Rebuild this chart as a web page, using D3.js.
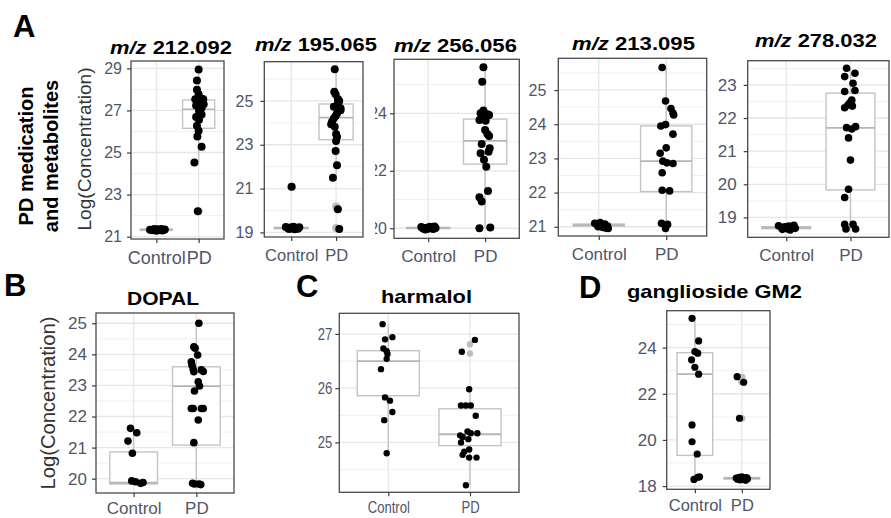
<!DOCTYPE html>
<html>
<head>
<meta charset="utf-8">
<script src="https://cdn.jsdelivr.net/npm/d3@7"></script>
<style>
  body { margin: 0; background: #fff; }
  svg { font-family: Arial, "Liberation Sans", sans-serif; }
</style>
</head>
<body>
<svg id="vis" width="891" height="518"></svg>
<script>
const groups = ["Control", "PD"];

// points are [value, jitter]; jitter in category units
// boxes are [lower whisker, q1, median, q3, upper whisker]

// m/z 212.092
const mz212Control = [[21.33,-0.15],[21.30,-0.1],[21.36,-0.05],[21.28,0],[21.35,0.03],[21.31,0.08],[21.37,0.12],[21.29,0.15],[21.34,0.2],[21.32,-0.02]];
const mz212PD = [[28.95,0],[28.42,-0.04],[27.98,-0.04],[27.77,0],[27.56,0.07],[27.53,-0.08],[27.53,0.11],[27.37,0.02],[27.24,-0.06],[27.29,0.12],[27.13,0.07],[26.97,0.01],[26.81,0.07],[26.69,-0.06],[26.56,0.01],[26.27,-0.04],[26.03,0],[25.76,-0.03],[25.27,0.07],[24.52,-0.1],[22.21,-0.02]];
const mz212Box = [[21.27,21.3,21.33,21.36,21.38],[24.52,26.15,27.05,27.5,28.95]];
const mz212Outliers = [["PD",22.21]];
const mz212Ticks = [21,23,25,27,29];

// m/z 195.065
const mz195Control = [[21.08,0.01],[19.25,-0.12],[19.2,-0.08],[19.15,-0.05],[19.22,-0.02],[19.18,0.02],[19.26,0.05],[19.14,0.08],[19.21,0.11],[19.17,0.15],[19.23,0.18]];
const mz195PD = [[26.44,-0.03],[25.42,-0.04],[25.31,-0.01],[25.09,0.04],[25.0,0.07],[24.88,0.04],[24.73,-0.05],[24.66,0.1],[24.58,0.1],[24.43,0.02],[24.31,-0.01],[24.2,-0.05],[24.05,-0.09],[23.94,-0.11],[23.82,-0.03],[23.49,0],[23.36,0.02],[23.17,0],[22.71,-0.01],[22.07,0.02],[21.49,-0.07],[20.06,0.04],[19.15,0.07]];
const mz195Box = [[19.14,19.17,19.2,19.23,19.26],[21.49,23.23,24.24,24.86,26.44]];
const mz195Outliers = [["Control",21.08],["PD",20.18],["PD",19.2]];
const mz195Ticks = [19,21,23,25];

// m/z 256.056
const mz256Control = [[20.04,-0.12],[19.99,-0.09],[19.96,-0.05],[20.02,-0.03],[19.98,0],[20.05,0.03],[20.0,0.06],[19.97,0.09],[20.06,0.11],[20.01,0.13]];
const mz256PD = [[25.6,-0.03],[25.1,-0.05],[24.1,-0.03],[24.0,-0.08],[23.97,0.04],[23.9,-0.02],[23.94,0.07],[23.83,-0.05],[23.74,0.01],[23.77,-0.1],[23.42,0],[23.28,0.04],[23.21,0.07],[22.93,-0.06],[22.78,0.08],[22.66,0.06],[22.61,-0.08],[22.38,-0.02],[22.14,0.02],[21.3,0.05],[21.08,-0.1],[20.93,-0.06],[20.0,-0.1],[20.03,0.09]];
const mz256Box = [[19.96,19.99,20.01,20.03,20.06],[20.0,22.23,23.04,23.8,25.6]];
const mz256Outliers = [];
const mz256Ticks = [20,22,24];

// m/z 213.095
const mz213Control = [[21.1,-0.06],[21.07,-0.03],[21.0,-0.01],[21.12,0.02],[21.04,0.04],[20.98,0.06],[21.08,0.09],[20.96,0.11],[21.02,0.13],[20.95,0.14]];
const mz213PD = [[25.66,-0.06],[24.68,-0.01],[24.46,0.07],[24.33,0.1],[24.27,0.11],[23.95,-0.08],[23.99,-0.01],[23.71,0.1],[23.31,0],[23.15,-0.09],[22.92,-0.05],[22.87,0.01],[22.85,0.1],[22.58,-0.06],[22.07,-0.06],[22.05,0.05],[21.1,-0.07],[21.07,0.02],[20.95,-0.01]];
const mz213Box = [[20.95,21.02,21.05,21.08,21.12],[20.95,22.03,22.92,23.95,25.66]];
const mz213Outliers = [];
const mz213Ticks = [21,22,23,24,25];

// m/z 278.032
const mz278Control = [[18.75,-0.12],[18.7,-0.08],[18.64,-0.06],[18.72,-0.02],[18.66,0.01],[18.74,0.04],[18.62,0.06],[18.69,0.09],[18.76,0.12],[18.67,0.14]];
const mz278PD = [[23.5,-0.06],[23.35,0.07],[23.25,-0.09],[23.05,0.04],[22.8,-0.09],[22.83,0.07],[22.54,0.02],[22.46,-0.01],[22.31,-0.09],[22.36,0.03],[22.39,-0.04],[21.71,-0.06],[21.74,0.08],[21.67,0.02],[21.4,-0.03],[20.73,0],[19.85,-0.03],[19.6,-0.09],[18.79,-0.09],[18.79,0.04],[18.65,-0.07],[18.65,0.08]];
const mz278Box = [[18.62,18.66,18.69,18.72,18.76],[18.65,19.83,21.7,22.75,23.5]];
const mz278Outliers = [];
const mz278Ticks = [19,20,21,22,23];

// DOPAL
const dopalControl = [[21.62,-0.05],[21.48,0.05],[21.21,-0.09],[20.82,-0.02],[19.93,-0.03],[19.9,0.03],[19.85,0.11],[19.88,0.15]];
const dopalPD = [[25.0,0.04],[24.24,-0.04],[24.2,-0.02],[23.98,0.02],[23.76,-0.08],[23.65,-0.07],[23.52,-0.05],[23.44,-0.04],[23.5,0.08],[23.45,0.11],[23.12,0.03],[22.98,0.05],[22.82,-0.03],[22.26,-0.08],[22.26,-0.05],[22.26,0.08],[22.26,0.11],[21.89,0.03],[21.16,-0.04],[19.85,-0.06],[19.83,-0.03],[19.83,0.04],[19.81,0.07]];
const dopalBox = [[19.81,19.83,19.87,20.86,21.62],[19.81,21.08,22.98,23.6,25.0]];
const dopalOutliers = [];
const dopalTicks = [20,21,22,23,24,25];

// harmalol
const harmalolControl = [[27.18,-0.07],[26.9,-0.04],[26.94,0.05],[26.73,-0.06],[26.68,-0.02],[26.63,-0.01],[26.54,-0.02],[26.35,-0.09],[25.83,-0.04],[25.77,0.02],[25.56,0.05],[25.41,-0.05],[24.8,-0.02]];
const harmalolPD = [[26.89,0.06],[26.67,-0.1],[25.98,-0.01],[25.68,-0.11],[25.68,-0.05],[25.68,0.01],[25.49,0.07],[25.2,-0.03],[25.17,0.01],[25.13,-0.12],[25.17,0.09],[25.1,-0.09],[25.06,-0.02],[25.0,-0.11],[24.87,-0.01],[24.83,-0.07],[24.77,-0.09],[24.72,-0.01],[24.72,0.08],[24.21,-0.05]];
const harmalolBox = [[24.8,25.86,26.5,26.69,27.18],[24.21,24.94,25.15,25.62,25.98]];
const harmalolOutliers = [["PD",26.81],["PD",26.64]];
const harmalolTicks = [25,26,27];

// ganglioside GM2
const gm2Control = [[25.27,-0.06],[24.29,0.08],[23.83,0],[23.76,0.06],[23.47,-0.07],[23.15,0],[22.85,0.08],[20.65,-0.06],[19.92,-0.06],[19.39,0.05],[18.29,-0.02],[18.38,0.06],[18.4,0.1]];
const gm2PD = [[22.74,-0.1],[22.5,0.04],[20.94,-0.05],[18.35,-0.12],[18.3,-0.09],[18.38,-0.06],[18.27,-0.04],[18.33,-0.02],[18.4,0],[18.29,0.02],[18.36,0.04],[18.31,0.06],[18.25,0.08],[18.37,0.1],[18.32,0.12]];
const gm2Box = [[18.29,19.33,22.85,23.78,25.27],[18.25,18.3,18.34,18.37,18.4]];
const gm2Outliers = [["PD",22.72],["PD",22.52],["PD",20.94]];
const gm2Ticks = [18,20,22,24];

const panels = [
  { mz: "212.092", control: mz212Control, pd: mz212PD, box: mz212Box, out: mz212Outliers, ticks: mz212Ticks,
    L: { x0: 131, x1: 224, y0: 61, y1: 239, dom: [20.89, 29.35], tx: 171, ty: 54, tl: 122, fs: 16, xfs: 18, pad: 5, xpad: 8, r: 4 } },
  { mz: "195.065", control: mz195Control, pd: mz195PD, box: mz195Box, out: mz195Outliers, ticks: mz195Ticks,
    L: { x0: 264.3, x1: 363, y0: 61.7, y1: 237, dom: [18.79, 26.79], tx: 316, ty: 51, tl: 122, fs: 16, xfs: 16.5, pad: 7, xpad: 8, r: 4 } },
  { mz: "256.056", control: mz256Control, pd: mz256PD, box: mz256Box, out: mz256Outliers, ticks: mz256Ticks,
    L: { x0: 394, x1: 519.3, y0: 59.3, y1: 238.3, dom: [19.65, 25.88], tx: 455.5, ty: 52, tl: 123, fs: 16, xfs: 17, pad: 3, xpad: 8, r: 4, clip: 375 } },
  { mz: "213.095", control: mz213Control, pd: mz213PD, box: mz213Box, out: mz213Outliers, ticks: mz213Ticks,
    L: { x0: 558.3, x1: 706.7, y0: 58.3, y1: 236, dom: [20.73, 25.93], tx: 633.5, ty: 50, tl: 123, fs: 16, xfs: 17, pad: 8, xpad: 8, r: 3.8 } },
  { mz: "278.032", control: mz278Control, pd: mz278PD, box: mz278Box, out: mz278Outliers, ticks: mz278Ticks,
    L: { x0: 747.7, x1: 889, y0: 60.7, y1: 237.3, dom: [18.4, 23.73], tx: 816, ty: 47, tl: 122, fs: 17, xfs: 17, pad: 7, xpad: 8, r: 3.8 } },
  { name: "DOPAL", control: dopalControl, pd: dopalPD, box: dopalBox, out: dopalOutliers, ticks: dopalTicks,
    L: { x0: 96, x1: 234, y0: 313, y1: 493, dom: [19.54, 25.33], tx: 163, ty: 305, tl: 72, fs: 17, xfs: 17, pad: 5, xpad: 5, r: 3.8 } },
  { name: "harmalol", control: harmalolControl, pd: harmalolPD, box: harmalolBox, out: harmalolOutliers, ticks: harmalolTicks,
    L: { x0: 339.3, x1: 519, y0: 313.3, y1: 492.3, dom: [24.08, 27.38], tx: 426.5, ty: 303, tl: 91, fs: 17, xfs: 17, pad: 5, xpad: 5, r: 3.2, squeeze: 0.77 } },
  { name: "ganglioside GM2", control: gm2Control, pd: gm2PD, box: gm2Box, out: gm2Outliers, ticks: gm2Ticks,
    L: { x0: 666.7, x1: 770, y0: 310.7, y1: 489.3, dom: [17.86, 25.6], tx: 714.5, ty: 298, tl: 175, fs: 17, xfs: 16.5, pad: 6, xpad: 6, r: 3.6 } }
];

const svg = d3.select("#vis");
svg.append("rect").attr("width", 891).attr("height", 518).attr("fill", "#fff");

panels.forEach(p => drawPanel(svg, p));

function drawPanel(svg, p) {
  const L = p.L;
  const x = d3.scaleLinear().domain([0.4, 2.6]).range([L.x0, L.x1]);
  const y = d3.scaleLinear().domain(L.dom).range([L.y1, L.y0]);
  const g = svg.append("g");

  // grid
  const step = p.ticks[1] - p.ticks[0];
  const minor = d3.range(p.ticks[0] - step / 2, L.dom[1], step).filter(v => v > L.dom[0]);
  g.append("g").selectAll("line").data(minor).join("line")
    .attr("x1", L.x0).attr("x2", L.x1)
    .attr("y1", d => y(d)).attr("y2", d => y(d))
    .attr("stroke", "#f0f0f0").attr("stroke-width", 1);
  g.append("g").selectAll("line").data(p.ticks).join("line")
    .attr("x1", L.x0).attr("x2", L.x1)
    .attr("y1", d => y(d)).attr("y2", d => y(d))
    .attr("stroke", "#e6e6e6").attr("stroke-width", 1.3);
  g.append("g").selectAll("line").data([1, 2]).join("line")
    .attr("x1", d => x(d)).attr("x2", d => x(d))
    .attr("y1", L.y0).attr("y2", L.y1)
    .attr("stroke", "#e6e6e6").attr("stroke-width", 1.3);

  // boxes
  const hw = 0.38;
  const boxG = g.append("g").attr("stroke", "#c4c4c4").attr("stroke-width", 1.4).attr("fill", "none");
  p.box.forEach((b, i) => {
    const c = i + 1;
    boxG.append("line").attr("x1", x(c)).attr("x2", x(c)).attr("y1", y(b[0])).attr("y2", y(b[1]));
    boxG.append("line").attr("x1", x(c)).attr("x2", x(c)).attr("y1", y(b[3])).attr("y2", y(b[4]));
    boxG.append("rect")
      .attr("x", x(c - hw)).attr("width", x(c + hw) - x(c - hw))
      .attr("y", y(b[3])).attr("height", Math.max(0.5, y(b[1]) - y(b[3])))
      .attr("fill", "#fff");
    boxG.append("line").attr("x1", x(c - hw)).attr("x2", x(c + hw))
      .attr("y1", y(b[2])).attr("y2", y(b[2])).attr("stroke", "#b5b5b5").attr("stroke-width", 1.8);
  });

  // outliers drawn by the boxplot
  g.append("g").selectAll("circle").data(p.out).join("circle")
    .attr("cx", d => x(groups.indexOf(d[0]) + 1))
    .attr("cy", d => y(d[1]))
    .attr("r", L.r).attr("fill", "#bdbdbd");

  // jittered points
  const pts = p.control.map(d => [1, d[0], d[1]]).concat(p.pd.map(d => [2, d[0], d[1]]));
  g.append("g").selectAll("circle").data(pts).join("circle")
    .attr("cx", d => x(d[0] + d[2]))
    .attr("cy", d => y(d[1]))
    .attr("r", L.r).attr("fill", "#000");

  // border
  g.append("rect")
    .attr("x", L.x0).attr("y", L.y0)
    .attr("width", L.x1 - L.x0).attr("height", L.y1 - L.y0)
    .attr("fill", "none").attr("stroke", "#4a4a4a").attr("stroke-width", 1.3);

  // axes
  const sq = L.squeeze || 1;
  const yHolder = g.append("g");
  if (L.clip) {
    const id = "clip" + p.mz.replace(".", "");
    svg.append("clipPath").attr("id", id).append("rect")
      .attr("x", L.clip).attr("y", 0).attr("width", 891).attr("height", 518);
    yHolder.attr("clip-path", `url(#${id})`);
  }
  const yAxis = yHolder.append("g")
    .attr("transform", `translate(${L.x0},0)`)
    .call(d3.axisLeft(y).tickValues(p.ticks).tickSize(4).tickPadding(L.pad).tickFormat(d3.format("d")));
  styleAxis(yAxis, L.fs, sq);

  const xAxis = g.append("g")
    .attr("transform", `translate(0,${L.y1})`)
    .call(d3.axisBottom(x).tickValues([1, 2]).tickSize(4).tickPadding(L.xpad).tickFormat(d => groups[d - 1]));
  styleAxis(xAxis, L.xfs, sq);

  // title
  const t = svg.append("text")
    .attr("x", L.tx).attr("y", L.ty)
    .attr("text-anchor", "middle")
    .attr("font-weight", "bold")
    .attr("font-size", p.mz ? 18 : 19)
    .attr("fill", "#000")
    .attr("textLength", L.tl)
    .attr("lengthAdjust", "spacingAndGlyphs");
  if (p.mz) {
    t.append("tspan").attr("font-style", "italic").text("m/z");
    t.append("tspan").text(" " + p.mz);
  } else {
    t.text(p.name);
  }
}

function styleAxis(ax, fs, sq) {
  ax.attr("font-size", null).attr("font-family", null);
  ax.select(".domain").remove();
  ax.selectAll(".tick line").attr("stroke", "#3d3d3d").attr("stroke-width", 1.2);
  ax.selectAll(".tick text")
    .attr("fill", "#50566a")
    .style("font-size", fs + "px");
  if (sq !== 1) ax.selectAll(".tick text").attr("transform", `scale(${sq},1)`);
}

// panel letters
const letters = [["A", 13, 37], ["B", 4, 296], ["C", 296, 297], ["D", 579, 298]];
svg.append("g").selectAll("text").data(letters).join("text")
  .attr("x", d => d[1]).attr("y", d => d[2])
  .attr("font-size", 31).attr("font-weight", "bold").attr("fill", "#000")
  .text(d => d[0]);

// row label and y titles
const rowLabel = svg.append("text")
  .attr("transform", "translate(33,156) rotate(-90)")
  .attr("text-anchor", "middle").attr("font-size", 20).attr("font-weight", "bold");
rowLabel.append("tspan").attr("x", 0).attr("y", 0).text("PD medication");
rowLabel.append("tspan").attr("x", 0).attr("y", 25).text("and metabolites");

const yTitles = [[91, 149, 163, 18], [55, 403, 173, 19.5]];
svg.append("g").selectAll("text").data(yTitles).join("text")
  .attr("transform", d => `translate(${d[0]},${d[1]}) rotate(-90)`)
  .attr("text-anchor", "middle")
  .attr("font-size", d => d[3])
  .attr("fill", "#333")
  .attr("textLength", d => d[2])
  .attr("lengthAdjust", "spacingAndGlyphs")
  .text("Log(Concentration)");
</script>
</body>
</html>
